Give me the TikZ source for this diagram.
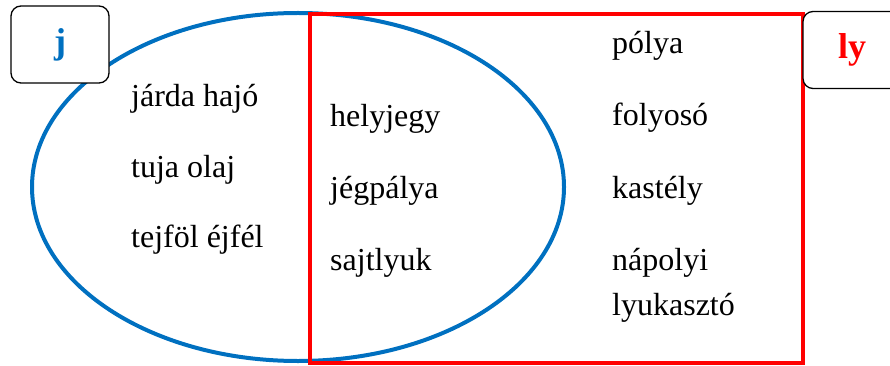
\documentclass[tikz,border=0pt]{standalone}
\usepackage{fontspec}
\setmainfont{Liberation Serif}
\usepackage{xcolor}
\usepackage{tikz}
\usetikzlibrary{positioning}

\definecolor{jblue}{HTML}{0070C0}
\definecolor{lyred}{HTML}{FF0000}

\begin{document}
\begin{tikzpicture}[x=1pt, y=-1pt,
    word/.style={anchor=base west, inner sep=0pt, font=\fontsize{32}{45}\selectfont},
    letterbox/.style={draw=black, line width=1.3pt, fill=white, rounded corners=10pt,
      minimum width=98pt, minimum height=77pt, font=\fontsize{36}{40}\selectfont\bfseries}]
  \useasboundingbox (0,0) rectangle (890,366);
  \clip (0,0) rectangle (890,366);

  % Sets: j (ellipse) and ly (rectangle)
  \draw[jblue, line width=4pt] (298,187) ellipse [x radius=266, y radius=174];
  \draw[lyred, line width=4pt] (310,14) rectangle (803,363);

  % Set labels
  \node[letterbox, text=jblue] (jbox) at (60,44.5) {j};
  \node[letterbox, text=lyred] (lybox) at (852,50) {ly};

  % Words with j only
  \foreach \w [count=\i] in {járda hajó, tuja olaj, tejföl éjfél}
    \node[word] (j\i) at (131, {107+70*(\i-1)}) {\w};

  % Words with both
  \foreach \w [count=\i] in {helyjegy, jégpálya, sajtlyuk}
    \node[word] (b\i) at (330, {127+71.5*(\i-1)}) {\w};

  % Words with ly only
  \foreach \w [count=\i] in {pólya, folyosó, kastély, nápolyi}
    \node[word] (l\i) at (612, {54+72*(\i-1)}) {\w};
  \node[word] (l5) at ([yshift=-45pt]l4.base west) {lyukasztó};
\end{tikzpicture}
\end{document}
